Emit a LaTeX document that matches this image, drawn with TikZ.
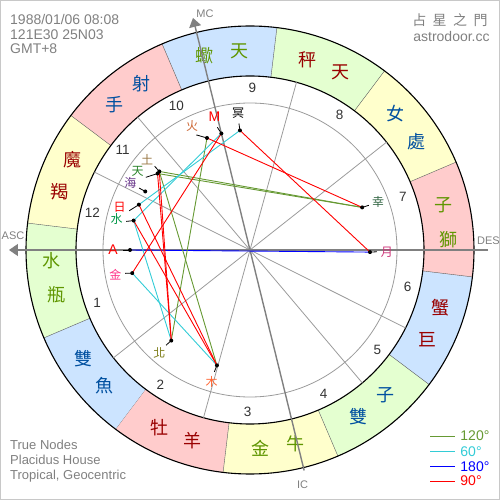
\documentclass[tikz,border=0pt]{standalone}
\usepackage{fontspec}
\setmainfont{Liberation Sans}
\newfontfamily\cjk{Noto Sans CJK TC}
\usetikzlibrary{arrows.meta,positioning,calc}
\definecolor{firePink}{RGB}{255,204,204}
\definecolor{earthYellow}{RGB}{255,255,204}
\definecolor{airGreen}{RGB}{228,255,208}
\definecolor{waterBlue}{RGB}{204,228,255}
\definecolor{cardRed}{RGB}{153,0,0}
\definecolor{fixGreen}{RGB}{95,150,0}
\definecolor{mutBlue}{RGB}{0,80,160}
\definecolor{infoGrey}{RGB}{128,128,128}
\definecolor{cuspGrey}{RGB}{155,155,155}
\definecolor{axisGrey}{RGB}{128,128,128}
\definecolor{edgeGrey}{RGB}{90,90,90}
\definecolor{frameGrey}{RGB}{200,200,200}
\definecolor{trineGreen}{RGB}{102,153,51}
\definecolor{sextCyan}{RGB}{51,204,214}
\definecolor{oppBlue}{RGB}{0,0,255}
\definecolor{sqRed}{RGB}{255,0,0}
\definecolor{marsCol}{RGB}{204,102,51}
\definecolor{saturnCol}{RGB}{153,119,68}
\definecolor{uranusCol}{RGB}{40,130,40}
\definecolor{neptuneCol}{RGB}{102,51,136}
\definecolor{mercuryCol}{RGB}{0,150,70}
\definecolor{venusCol}{RGB}{255,51,136}
\definecolor{nodeCol}{RGB}{128,128,30}
\definecolor{jupiterCol}{RGB}{255,102,51}
\definecolor{fortuneCol}{RGB}{51,102,68}
\definecolor{moonCol}{RGB}{204,51,119}

\begin{document}
\begin{tikzpicture}[x=1pt, y=1pt,
    info/.style={font=\fontsize{14}{16}\selectfont, text=infoGrey, inner sep=0pt, anchor=base west},
    smallinfo/.style={font=\fontsize{13}{15}\selectfont, text=infoGrey, inner sep=0pt, anchor=base west},
    signchar/.style={font=\cjk\fontsize{18}{18}\selectfont, inner sep=0pt},
    housenum/.style={font=\fontsize{13.5}{14}\selectfont, text=black!80, inner sep=0pt},
    glyph/.style={font=\cjk\fontsize{12}{12}\selectfont, inner sep=0pt},
    letter/.style={font=\fontsize{14}{14}\selectfont, inner sep=0pt, text=sqRed},
    axislabel/.style={font=\fontsize{11}{11}\selectfont, text=infoGrey, inner sep=0pt},
    legendtext/.style={font=\fontsize{14}{14}\selectfont, inner sep=0pt, anchor=west},
    dot/.style={circle, fill=black, inner sep=0pt, minimum size=4pt},
    tick/.style={black, line width=0.8pt},
    cusp/.style={cuspGrey, line width=0.8pt},
    axisline/.style={axisGrey, line width=1.4pt},
    trine/.style={trineGreen, line width=0.9pt},
    sextile/.style={sextCyan, line width=0.9pt},
    opposition/.style={oppBlue, line width=0.9pt},
    square/.style={sqRed, line width=0.9pt}
  ]
  \useasboundingbox (-250,-250) rectangle (250,250);
  \draw[frameGrey, line width=1.5pt] (-249.25,-249.25) rectangle (249.25,249.25);

  % zodiac ring
  \foreach \i/\first/\second/\bg/\fg in {0/牡/羊/firePink/cardRed, 1/金/牛/earthYellow/fixGreen,
      2/雙/子/airGreen/mutBlue, 3/巨/蟹/waterBlue/cardRed, 4/獅/子/firePink/fixGreen,
      5/處/女/earthYellow/mutBlue, 6/天/秤/airGreen/cardRed, 7/天/蠍/waterBlue/fixGreen,
      8/射/手/firePink/mutBlue, 9/魔/羯/earthYellow/cardRed, 10/水/瓶/airGreen/fixGreen,
      11/雙/魚/waterBlue/mutBlue}{
    \pgfmathsetmacro\s{233.1+30*\i}
    \pgfmathsetmacro\e{\s+30}
    \pgfmathsetmacro\ca{\s+10}
    \pgfmathsetmacro\cb{\s+20}
    \fill[\bg] (\s:174) arc[start angle=\s, delta angle=30, radius=174]
      -- (\e:224) arc[start angle=\e, delta angle=-30, radius=224] -- cycle;
    \draw[edgeGrey] (\s:174) -- (\s:224);
    \node[signchar, text=\fg] (sign\i-1) at (\ca:199) {\first};
    \node[signchar, text=\fg] (sign\i-2) at (\cb:199) {\second};
  }
  \draw[black, line width=1.1pt] (0,0) circle[radius=224];
  \draw[black, line width=1.1pt] (0,0) circle[radius=174];
  \draw[cusp] (0,0) circle[radius=147];

  % houses
  \foreach \c in {218.3,254.5,310.2,333.4,38.3,74.5,130.2,153.4}
    \draw[cusp] (0,0) -- (\c:174);
  \foreach \n/\a in {1/199.2, 2/236.4, 3/269.2, 4/297, 5/321.8, 6/346.7,
      7/19.2, 8/56.4, 9/89.2, 10/117, 11/141.8, 12/166.7}
    \node[housenum] (house\n) at (\a:162) {\n};

  % angles
  \coordinate (asc) at (180:241);
  \coordinate (des) at (0:238);
  \coordinate (mc) at (103.8:239);
  \coordinate (ic) at (283.8:227);
  \draw[axisline, -{Triangle[length=9pt, width=12pt]}] (des) -- (asc);
  \draw[axisline, -{Triangle[length=9pt, width=12pt]}] (ic) -- (mc);
  \node[axislabel] (asclabel) at (-237,14.5) {ASC};
  \node[axislabel] (deslabel) at (238.5,9) {DES};
  \node[axislabel] (mclabel) at (-45,236.5) {MC};
  \node[axislabel] (iclabel) at (52.5,-235) {IC};

  % planets
  \foreach \p/\d/\g/\txt/\col in {pluto/94.8/95/冥/black, mars/111/115/火/marsCol,
      saturn/139.1/138.7/土/saturnCol, uranus/140.4/145.1/天/uranusCol,
      neptune/150.8/150.8/海/neptuneCol, sun/157.8/162.0/日/sqRed,
      mercury/165.8/167.0/水/mercuryCol, venus/191.1/190.6/金/venusCol,
      nnode/229/228.6/北/nodeCol, jupiter/254/253.7/木/jupiterCol,
      fortune/20.8/20.6/幸/fortuneCol, moon/359/359.2/月/moonCol}{
    \coordinate (\p) at (\d:120);
    \coordinate (\p-t) at (\g:127);
    \node[glyph, text=\col] (\p-g) at (\g:137) {\txt};
  }
  \coordinate (mcpt) at (103.8:120);
  \coordinate (mcpt-t) at (104.9:127);
  \node[letter] (mcpt-g) at (104.9:138) {M};
  \coordinate (ascpt) at (180:120);
  \coordinate (ascpt-t) at (180:127);
  \node[letter] (ascpt-g) at (180:137) {A};

  % aspects
  \draw[opposition] (ascpt) -- (moon);
  \foreach \a/\b in {saturn/fortune, uranus/fortune, mars/nnode, saturn/jupiter}
    \draw[trine] (\a) -- (\b);
  \foreach \a/\b in {sun/pluto, mercury/mcpt, mercury/nnode, venus/jupiter}
    \draw[sextile] (\a) -- (\b);
  \foreach \a/\b in {pluto/moon, mars/fortune, mcpt/venus, saturn/nnode,
      uranus/nnode, sun/jupiter, mercury/jupiter}
    \draw[square] (\a) -- (\b);

  \foreach \p in {pluto, mars, saturn, uranus, neptune, sun, mercury, venus,
      nnode, jupiter, fortune, moon, mcpt, ascpt}{
    \draw[tick] (\p) -- (\p-t);
    \node[dot] (\p-dot) at (\p) {};
  }

  % corner texts
  \node[info] (date) at (-240,225) {1988/01/06 08:08};
  \node[info] (place) at (-240,210.5) {121E30 25N03};
  \node[info] (zone) at (-240,196) {GMT+8};
  \node[font=\cjk\fontsize{14}{14}\selectfont, text=infoGrey, inner sep=0pt] (site)
    at (200,230) {占\hspace{6.5pt}星\hspace{6.5pt}之\hspace{6.5pt}門};
  \node[font=\fontsize{14}{14}\selectfont, text=infoGrey, inner sep=0pt, anchor=base]
    (url) at (201.5,208) {astrodoor.cc};
  \node[smallinfo] (nodes) at (-240,-199.3) {True Nodes};
  \node[smallinfo] (system) at (-240,-214.3) {Placidus House};
  \node[smallinfo] (frame) at (-240,-229.3) {Tropical, Geocentric};

  % legend
  \foreach \n/\y/\lbl/\st in {1/-186/120°/trine, 2/-201.5/60°/sextile,
      3/-216.5/180°/opposition, 4/-231/90°/square}{
    \draw[\st] (180,\y) -- (205,\y);
    \node[\st, legendtext] (legend\n) at (210,\y) {\lbl};
  }
\end{tikzpicture}
\end{document}
